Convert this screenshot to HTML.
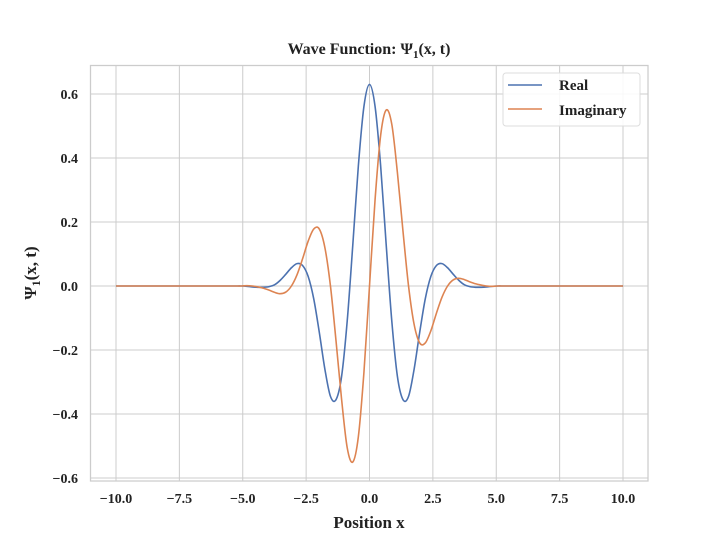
<!DOCTYPE html>
<html><head><meta charset="utf-8"><style>
body{margin:0;background:#fff}
svg{display:block;font-family:"Liberation Serif",serif;font-weight:bold}
</style></head><body>
<svg id="chart" width="720" height="540" viewBox="0 0 720 540">
<rect x="0" y="0" width="720" height="540" fill="#fff"/>
<g id="grid"></g>
<g id="series"></g>
<rect x="90.5" y="65.5" width="557.5" height="415.5" fill="none" stroke="#cccccc" stroke-width="1.25"/>
<g id="ticks"></g>
<text x="369" y="54" text-anchor="middle" font-size="16" fill="#222">Wave Function: Ψ<tspan font-size="11" dy="4">1</tspan><tspan dy="-4">(x, t)</tspan></text>
<text x="369" y="528" text-anchor="middle" font-size="17" fill="#222">Position x</text>
<text transform="translate(36,273) rotate(-90)" text-anchor="middle" font-size="17" fill="#222">Ψ<tspan font-size="12" dy="4">1</tspan><tspan dy="-4">(x, t)</tspan></text>
<g>
<rect x="503" y="73" width="137" height="53" rx="3" fill="#fff" fill-opacity="0.85" stroke="#dddddd"/>
<g><line x1="508" y1="85" x2="542" y2="85" stroke="#4c72b0" stroke-width="1.6"/><text x="559" y="90" font-size="15" fill="#222">Real</text></g>
<g><line x1="508" y1="109" x2="542" y2="109" stroke="#dd8452" stroke-width="1.6"/><text x="559" y="115" font-size="15" fill="#222">Imaginary</text></g>
</g>
</svg>
<script>
const xPos=[0,0.22,0.44,0.66,0.88,1.1,1.32,1.54,1.76,1.98,2.2,2.42,2.64,2.86,3.08,3.3,3.52,3.74,3.96,4.18,4.4,4.62,4.84,5.06,5.28,5.5];
const realPos=[0.630,0.561,0.375,0.127,-0.110,-0.282,-0.355,-0.345,-0.260,-0.145,-0.040,0.030,0.064,0.070,0.057,0.037,0.018,0.004,-0.002,-0.004,-0.004,-0.003,-0.001,0,0,0];
const imagPos=[0,0.270,0.471,0.550,0.505,0.355,0.172,0,-0.120,-0.178,-0.178,-0.140,-0.085,-0.035,0,0.019,0.024,0.020,0.013,0.007,0.003,0,-0.001,0,0,0];
const xTicks=[-10,-7.5,-5,-2.5,0,2.5,5,7.5,10];
const xTickLabels=["−10.0","−7.5","−5.0","−2.5","0.0","2.5","5.0","7.5","10.0"];
const yTicks=[-0.6,-0.4,-0.2,0,0.2,0.4,0.6];
const yTickLabels=["−0.6","−0.4","−0.2","0.0","0.2","0.4","0.6"];

const NS="http://www.w3.org/2000/svg";
const sx=v=>369.5+v*25.35;
const sy=v=>286-v*320;
function mk(t,a,p){const e=document.createElementNS(NS,t);for(const k in a)e.setAttribute(k,a[k]);p.appendChild(e);return e;}
const grid=document.getElementById('grid'),ticks=document.getElementById('ticks'),ser=document.getElementById('series');
xTicks.forEach((v,i)=>{
  const l=mk('line',{x1:sx(v),x2:sx(v),y1:65,y2:481,stroke:'#cccccc','stroke-width':1},grid);
  
  
  const t=mk('text',{x:sx(v),y:503,'text-anchor':'middle','font-size':14,fill:'#222'},ticks);
  t.textContent=xTickLabels[i];
  
  
});
yTicks.forEach((v,i)=>{
  const l=mk('line',{x1:90,x2:648,y1:sy(v),y2:sy(v),stroke:'#cccccc','stroke-width':1},grid);
  
  
  const t=mk('text',{x:78,y:sy(v)+5,'text-anchor':'end','font-size':14,fill:'#222'},ticks);
  t.textContent=yTickLabels[i];
  
  
});
function full(vals,odd){
  const xs=[-10],ys=[0];
  for(let i=xPos.length-1;i>0;i--){xs.push(-xPos[i]);ys.push(odd?-vals[i]:vals[i]);}
  for(let i=0;i<xPos.length;i++){xs.push(xPos[i]);ys.push(vals[i]);}
  xs.push(10);ys.push(0);
  return xs.map((x,i)=>[sx(x),sy(ys[i])]);
}
function smooth(p){
  let d=`M${p[0][0]},${p[0][1]}`;
  for(let i=0;i<p.length-1;i++){
    const p0=p[Math.max(0,i-1)],p1=p[i],p2=p[i+1],p3=p[Math.min(p.length-1,i+2)];
    if(i===0||i===p.length-2){d+=`L${p2[0]},${p2[1]}`;continue;}
    const c1=[p1[0]+(p2[0]-p0[0])/6,p1[1]+(p2[1]-p0[1])/6];
    const c2=[p2[0]-(p3[0]-p1[0])/6,p2[1]-(p3[1]-p1[1])/6];
    d+=`C${c1[0]},${c1[1]} ${c2[0]},${c2[1]} ${p2[0]},${p2[1]}`;
  }
  return d;
}
const r=mk('path',{d:smooth(full(realPos,false)),fill:'none',stroke:'#4c72b0','stroke-width':1.6},ser);


const im=mk('path',{d:smooth(full(imagPos,true)),fill:'none',stroke:'#dd8452','stroke-width':1.6},ser);


</script>
</body></html>
